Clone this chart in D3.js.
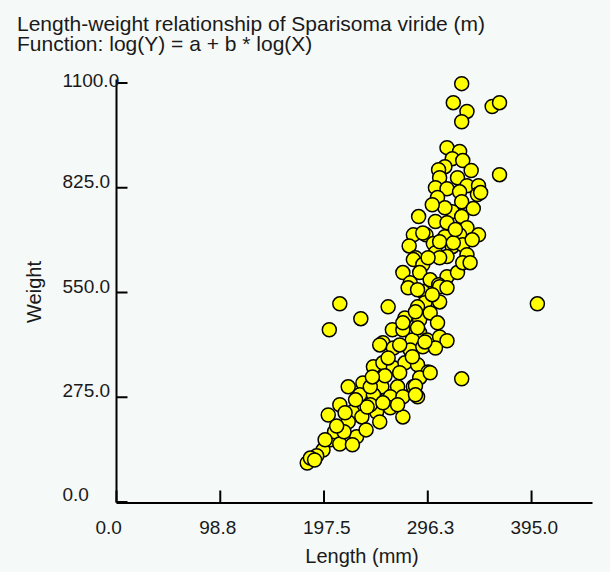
<!DOCTYPE html>
<html>
<head>
<meta charset="utf-8">
<script src="https://cdn.jsdelivr.net/npm/d3@7"></script>
<style>
  html, body { margin: 0; padding: 0; background: #f5f9f7; }
  svg { display: block; }
  text { font-family: "Liberation Sans", Arial, Helvetica, sans-serif; fill: #1a1a1a; }
</style>
</head>
<body>
<svg id="chart" width="610" height="572"></svg>
<script>
// ---- Data ----
const titleLines = ["Length-weight relationship of Sparisoma viride (m)", "Function: log(Y) = a + b * log(X)"];
const xLabel = "Length (mm)";
const yLabel = "Weight";
const xTickValues = [0, 98.75, 197.5, 296.25, 395];
const xTickLabels = ["0.0", "98.8", "197.5", "296.3", "395.0"];
const yTickValues = [0, 275, 550, 825, 1100];
const yTickLabels = ["0.0", "275.0", "550.0", "825.0", "1100.0"];

// lengths (mm) and weights (g), paired by index
const lengths = [
  329, 321, 334, 329, 358, 365, 365, 401, 329, 213, 233, 203, 259,
  315, 327, 320, 330, 313, 307, 338, 325, 308, 304, 315, 334, 345, 327, 306, 329, 344, 347,
  288, 320, 340, 304, 315, 329, 334, 345, 283, 295, 313, 327, 279, 302, 320, 330, 339, 304, 315, 334, 285, 292, 308, 321,
  283, 292, 273, 289, 299, 315, 325, 280, 307, 330, 337, 278, 292, 308, 315, 294, 308, 287,
  275, 289, 299, 306, 263, 273, 289, 282, 296, 308, 315, 254, 264, 280, 292, 304, 251, 273, 287, 294,
  245, 254, 264, 275, 287, 297, 239, 253, 268, 283, 289, 221, 299, 235, 234, 247, 261, 273, 287, 232, 245, 242, 285, 285,
  213, 225, 234, 248, 261, 273, 202, 204, 208, 213, 197, 191, 182, 185, 229, 221, 242, 251, 254, 268, 239,
  313, 301, 323, 308, 297, 287, 301, 285, 270, 282, 259, 270, 256, 244, 228, 218, 238, 217, 210, 225, 199, 189
];
const weights = [
  1097, 1047, 1024, 997, 1037, 1047, 858, 519, 322, 519, 480, 451, 511,
  929, 919, 900, 895, 879, 871, 869, 850, 850, 824, 821, 829, 829, 813, 798, 787, 806, 811,
  748, 761, 769, 735, 732, 748, 719, 700, 700, 700, 695, 700, 671, 677, 669, 674, 687, 653, 643, 648, 640, 705, 682, 679,
  635, 622, 601, 601, 582, 590, 601, 574, 569, 627, 627, 561, 551, 564, 561, 522, 524, 511,
  482, 477, 495, 469, 451, 451, 443, 424, 424, 432, 422, 417, 403, 398, 406, 403, 411, 469, 456, 419,
  354, 364, 351, 364, 359, 340, 311, 301, 301, 301, 325, 301, 338, 311, 272, 272, 275, 275, 275, 280, 280, 301, 303, 280,
  254, 235, 222, 235, 246, 222, 227, 162, 183, 151, 135, 120, 101, 114, 170, 209, 254, 209, 259, 254, 248,
  771, 779, 714, 640, 640, 556, 543, 498, 411, 380, 377, 338, 330, 327, 267, 233, 188, 183, 198, 149, 162, 109
];

// ---- Chart ----
const svg = d3.select("#chart");

const x = d3.scaleLinear().domain([0, 453]).range([116, 592]);
const y = d3.scaleLinear().domain([0, 1100]).range([501.5, 82.5]);

// Title
svg.append("text").attr("x", 17).attr("y", 31).attr("font-size", 21).text(titleLines[0]);
svg.append("text").attr("x", 17).attr("y", 50.5).attr("font-size", 21).text(titleLines[1]);

// Points
const pts = lengths.map((l, i) => ({ l, w: weights[i] }));
svg.append("g").selectAll("circle").data(pts).join("circle")
  .attr("cx", d => x(d.l))
  .attr("cy", d => y(d.w))
  .attr("r", 7)
  .attr("fill", "#ffff00")
  .attr("stroke", "#000")
  .attr("stroke-width", 1.5);

// X axis
const xAxis = d3.axisBottom(x)
  .tickValues(xTickValues)
  .tickFormat((d, i) => xTickLabels[i])
  .tickSizeInner(-12)
  .tickSizeOuter(0);
const gx = svg.append("g").attr("transform", "translate(0,502.5)").call(xAxis);
gx.select(".domain").attr("stroke", "#000").attr("stroke-width", 2);
gx.selectAll(".tick line").attr("stroke", "#000").attr("stroke-width", 2);
gx.selectAll(".tick text")
  .attr("font-family", null)
  .attr("font-size", 19)
  .attr("fill", "#1a1a1a")
  .attr("text-anchor", "start")
  .attr("x", -21)
  .attr("y", 31)
  .attr("dy", 0);

// Y axis
const yAxis = d3.axisLeft(y)
  .tickValues(yTickValues)
  .tickFormat((d, i) => yTickLabels[i])
  .tickSizeInner(-11)
  .tickSizeOuter(0);
const gy = svg.append("g").attr("transform", "translate(116.5,0)").call(yAxis);
gy.select(".domain").attr("stroke", "#000").attr("stroke-width", 2)
  .attr("d", `M0,${y(0) + 1}V${y(1100) - 3}`);
gy.selectAll(".tick line").attr("stroke", "#000").attr("stroke-width", 2);
gy.selectAll(".tick text")
  .attr("font-family", null)
  .attr("font-size", 19)
  .attr("fill", "#1a1a1a")
  .attr("text-anchor", "start")
  .attr("x", -54)
  .attr("dy", 0)
  .attr("y", d => (d === 1100 ? 3.5 : (d === 0 ? -1 : 0)));

// Axis titles
svg.append("text")
  .attr("x", 362).attr("y", 563)
  .attr("text-anchor", "middle")
  .attr("font-size", 20)
  .text(xLabel);
svg.append("text")
  .attr("transform", "translate(41,292) rotate(-90)")
  .attr("text-anchor", "middle")
  .attr("font-size", 20)
  .text(yLabel);
</script>
</body>
</html>
